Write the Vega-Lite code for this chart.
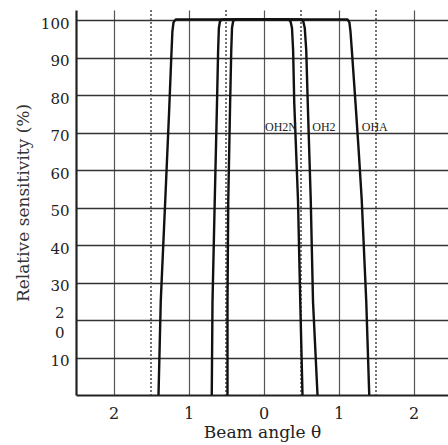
{
  "$schema": "https://vega.github.io/schema/vega-lite/v6.json",
  "width": 372,
  "height": 385,
  "autosize": "none",
  "padding": {"left": 76, "top": 10, "right": 0, "bottom": 50},
  "background": "white",
  "config": {"view": {"stroke": null}, "font": "DejaVu Serif"},
  "datasets": {
    "curves": [
      {"s": "OHA", "i": 1, "x": -1.40, "y": 0},
      {"s": "OHA", "i": 2, "x": -1.37, "y": 25},
      {"s": "OHA", "i": 3, "x": -1.31, "y": 52},
      {"s": "OHA", "i": 4, "x": -1.26, "y": 75},
      {"s": "OHA", "i": 5, "x": -1.23, "y": 90},
      {"s": "OHA", "i": 6, "x": -1.215, "y": 97},
      {"s": "OHA", "i": 7, "x": -1.20, "y": 99.5},
      {"s": "OHA", "i": 8, "x": -1.17, "y": 100.3},
      {"s": "OHA", "i": 9, "x": 1.12, "y": 100.3},
      {"s": "OHA", "i": 10, "x": 1.145, "y": 99.5},
      {"s": "OHA", "i": 11, "x": 1.16, "y": 97},
      {"s": "OHA", "i": 12, "x": 1.185, "y": 90},
      {"s": "OHA", "i": 13, "x": 1.23, "y": 77},
      {"s": "OHA", "i": 14, "x": 1.27, "y": 65},
      {"s": "OHA", "i": 15, "x": 1.31, "y": 52},
      {"s": "OHA", "i": 16, "x": 1.37, "y": 25},
      {"s": "OHA", "i": 17, "x": 1.41, "y": 0},
      {"s": "OH2", "i": 1, "x": -0.69, "y": 0},
      {"s": "OH2", "i": 2, "x": -0.68, "y": 25},
      {"s": "OH2", "i": 3, "x": -0.65, "y": 52},
      {"s": "OH2", "i": 4, "x": -0.62, "y": 78},
      {"s": "OH2", "i": 5, "x": -0.605, "y": 92},
      {"s": "OH2", "i": 6, "x": -0.595, "y": 98},
      {"s": "OH2", "i": 7, "x": -0.58, "y": 99.8},
      {"s": "OH2", "i": 8, "x": -0.55, "y": 100.3},
      {"s": "OH2", "i": 9, "x": 0.50, "y": 100.3},
      {"s": "OH2", "i": 10, "x": 0.53, "y": 99.8},
      {"s": "OH2", "i": 11, "x": 0.55, "y": 98},
      {"s": "OH2", "i": 12, "x": 0.57, "y": 92},
      {"s": "OH2", "i": 13, "x": 0.59, "y": 78},
      {"s": "OH2", "i": 14, "x": 0.63, "y": 52},
      {"s": "OH2", "i": 15, "x": 0.66, "y": 25},
      {"s": "OH2", "i": 16, "x": 0.72, "y": 0},
      {"s": "OH2N", "i": 1, "x": -0.48, "y": 0},
      {"s": "OH2N", "i": 2, "x": -0.48, "y": 25},
      {"s": "OH2N", "i": 3, "x": -0.47, "y": 52},
      {"s": "OH2N", "i": 4, "x": -0.445, "y": 78},
      {"s": "OH2N", "i": 5, "x": -0.43, "y": 92},
      {"s": "OH2N", "i": 6, "x": -0.42, "y": 98},
      {"s": "OH2N", "i": 7, "x": -0.405, "y": 99.8},
      {"s": "OH2N", "i": 8, "x": -0.38, "y": 100.3},
      {"s": "OH2N", "i": 9, "x": 0.33, "y": 100.3},
      {"s": "OH2N", "i": 10, "x": 0.36, "y": 99.8},
      {"s": "OH2N", "i": 11, "x": 0.38, "y": 98},
      {"s": "OH2N", "i": 12, "x": 0.395, "y": 92},
      {"s": "OH2N", "i": 13, "x": 0.41, "y": 78},
      {"s": "OH2N", "i": 14, "x": 0.46, "y": 52},
      {"s": "OH2N", "i": 15, "x": 0.49, "y": 25},
      {"s": "OH2N", "i": 16, "x": 0.52, "y": 0}
    ],
    "guides": [{"x": -1.5}, {"x": -0.5}, {"x": 0.5}, {"x": 1.5}],
    "labels": [
      {"x": 0.02, "y": 70.5, "text": "OH2N"},
      {"x": 0.65, "y": 70.5, "text": "OH2"},
      {"x": 1.31, "y": 70.5, "text": "OHA"}
    ]
  },
  "layer": [
    {
      "data": {"name": "guides"},
      "mark": {"type": "rule", "strokeDash": [2, 2], "color": "#444", "strokeWidth": 1.5},
      "encoding": {
        "x": {"field": "x", "type": "quantitative",
          "scale": {"domain": [-2.5, 2.46], "nice": false, "zero": false},
          "axis": {"values": [-2, -1, 0, 1, 2], "labelExpr": "'' + abs(datum.value)", "title": "Beam angle θ",
            "grid": true, "gridColor": "#555", "gridWidth": 1.2, "domainColor": "#222", "domainWidth": 2.2,
            "ticks": false, "tickSize": 0, "labelPadding": 10, "labelFont": "DejaVu Serif", "labelFontSize": 16,
            "labelColor": "#222", "titleFont": "DejaVu Serif", "titleFontSize": 17, "titleFontWeight": "normal",
            "titleColor": "#222", "titlePadding": 3}}
      }
    },
    {
      "data": {"name": "curves"},
      "mark": {"type": "line", "color": "#111", "strokeWidth": 2.4, "strokeJoin": "round"},
      "encoding": {
        "x": {"field": "x", "type": "quantitative",
          "scale": {"domain": [-2.5, 2.46], "nice": false, "zero": false},
          "axis": {"values": [-2, -1, 0, 1, 2], "labelExpr": "'' + abs(datum.value)", "title": "Beam angle θ",
            "grid": true, "gridColor": "#555", "gridWidth": 1.2, "domainColor": "#222", "domainWidth": 2.2,
            "ticks": false, "tickSize": 0, "labelPadding": 10, "labelFont": "DejaVu Serif", "labelFontSize": 16,
            "labelColor": "#222", "titleFont": "DejaVu Serif", "titleFontSize": 17, "titleFontWeight": "normal",
            "titleColor": "#222", "titlePadding": 3}},
        "y": {"field": "y", "type": "quantitative",
          "scale": {"domain": [0, 102.8], "nice": false, "zero": false},
          "axis": {"values": [10, 20, 30, 40, 50, 60, 70, 80, 90, 100], "title": "Relative sensitivity (%)",
            "labelExpr": "datum.value == 20 ? ['2', '0'] : datum.label",
            "grid": true, "gridColor": "#333", "gridWidth": 1.4, "domainColor": "#222", "domainWidth": 2.2,
            "ticks": false, "tickSize": 0,
            "labelPadding": {"condition": {"test": "datum.value == 20", "value": 12}, "value": 7},
            "labelFont": "DejaVu Serif", "labelFontSize": 15,
            "labelColor": "#222",
            "labelOffset": {"condition": {"test": "datum.value == 20", "value": -8}, "value": 3},
            "labelLineHeight": 20,
            "titleFont": "DejaVu Serif", "titleFontSize": 17, "titleFontWeight": "normal",
            "titleColor": "#333", "titlePadding": 8}},
        "detail": {"field": "s", "type": "nominal"},
        "order": {"field": "i", "type": "quantitative"}
      }
    },
    {
      "data": {"name": "labels"},
      "mark": {"type": "text", "align": "left", "baseline": "alphabetic", "font": "Liberation Serif", "fontSize": 12, "color": "#222"},
      "encoding": {
        "x": {"field": "x", "type": "quantitative"},
        "y": {"field": "y", "type": "quantitative"},
        "text": {"field": "text", "type": "nominal"}
      }
    }
  ]
}
